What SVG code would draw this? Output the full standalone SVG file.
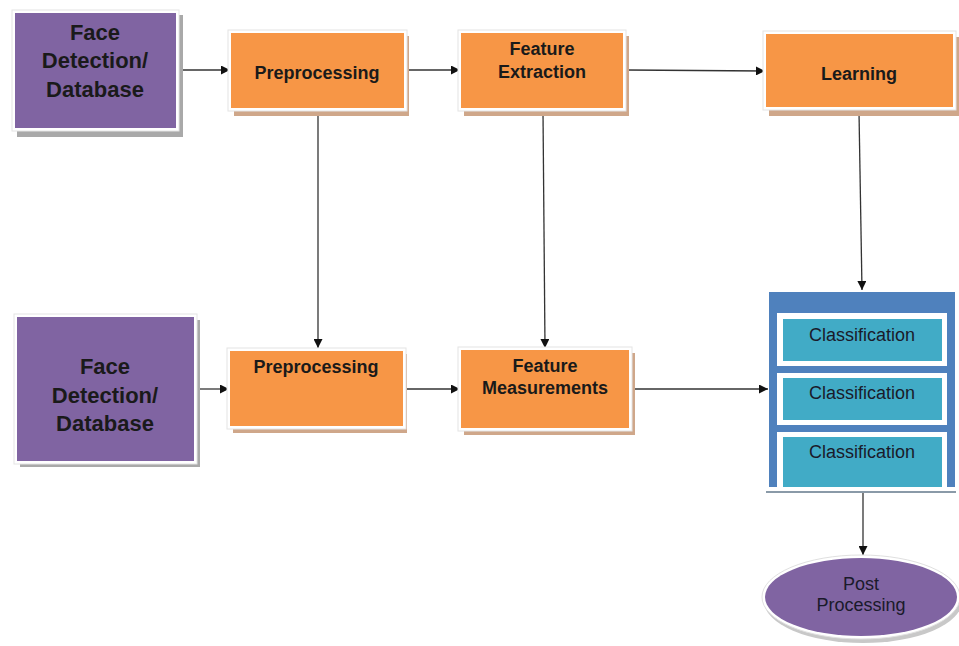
<svg xmlns="http://www.w3.org/2000/svg" width="959" height="646" viewBox="0 0 959 646">
<defs>
<style>
.pur{fill:#8064a2}
.org{fill:#f79646}
.tea{fill:#41abc6}
.wht{fill:#ffffff;stroke:#e4e4e4;stroke-width:1}
.shg{fill:#a9a9a9}
.sho{fill:#cfa78a}
.tb{font-family:"Liberation Sans",Arial,sans-serif;font-weight:bold;fill:#1a1a1a;text-anchor:middle}
.tr{font-family:"Liberation Sans",Arial,sans-serif;fill:#1a1a2a;text-anchor:middle}
.ln{stroke:#333333;stroke-width:1.3;fill:none}
</style>
<marker id="ah" viewBox="0 0 10 10" refX="10" refY="5" markerWidth="10" markerHeight="9" markerUnits="userSpaceOnUse" orient="auto">
<path d="M0,0 L10,5 L0,10 z" fill="#111111"/>
</marker>
</defs>
<rect width="959" height="646" fill="#ffffff"/>

<g id="connectors">
<line class="ln" x1="178" y1="70" x2="230" y2="70" marker-end="url(#ah)"/>
<line class="ln" x1="409" y1="70" x2="460" y2="70" marker-end="url(#ah)"/>
<line class="ln" x1="627" y1="70" x2="765" y2="71" marker-end="url(#ah)"/>
<line class="ln" x1="318" y1="112" x2="318" y2="348" marker-end="url(#ah)"/>
<line class="ln" x1="543" y1="112" x2="545" y2="348" marker-end="url(#ah)"/>
<line class="ln" x1="859" y1="112" x2="862" y2="290" marker-end="url(#ah)"/>
<line class="ln" x1="198" y1="389" x2="229" y2="389" marker-end="url(#ah)"/>
<line class="ln" x1="406" y1="389" x2="460" y2="389" marker-end="url(#ah)"/>
<line class="ln" x1="633" y1="389" x2="768" y2="389" marker-end="url(#ah)"/>
<line class="ln" x1="863" y1="493" x2="863" y2="555" marker-end="url(#ah)"/>
</g>

<g id="face1">
<rect class="shg" x="17" y="15" width="166" height="122"/>
<rect class="wht" x="12" y="10" width="167" height="121"/>
<rect class="pur" x="15" y="13" width="161" height="115"/>
<text class="tb" font-size="22" x="95" y="40">Face</text>
<text class="tb" font-size="22" x="95" y="68">Detection/</text>
<text class="tb" font-size="22" x="95" y="97">Database</text>
</g>

<g id="pre1">
<rect class="sho" x="234" y="36" width="175" height="80"/>
<rect class="wht" x="228" y="30" width="179" height="81"/>
<rect class="org" x="231" y="33" width="173" height="75"/>
<text class="tb" font-size="18" x="317" y="79">Preprocessing</text>
</g>

<g id="fe1">
<rect class="sho" x="464" y="36" width="165" height="80"/>
<rect class="wht" x="458" y="30" width="168" height="81"/>
<rect class="org" x="461" y="33" width="162" height="75"/>
<text class="tb" font-size="18" x="542" y="55">Feature</text>
<text class="tb" font-size="18" x="542" y="78">Extraction</text>
</g>

<g id="learn">
<rect class="sho" x="769" y="37" width="190" height="79"/>
<rect class="wht" x="763" y="31" width="193" height="79"/>
<rect class="org" x="766" y="34" width="187" height="73"/>
<text class="tb" font-size="18" x="859" y="80">Learning</text>
</g>

<g id="face2">
<rect class="shg" x="20" y="320" width="180" height="147"/>
<rect class="wht" x="14" y="314" width="183" height="150"/>
<rect class="pur" x="17" y="317" width="177" height="144"/>
<text class="tb" font-size="22" x="105" y="374">Face</text>
<text class="tb" font-size="22" x="105" y="403">Detection/</text>
<text class="tb" font-size="22" x="105" y="431">Database</text>
</g>

<g id="pre2">
<rect class="sho" x="233" y="354" width="174" height="79"/>
<rect class="wht" x="227" y="348" width="179" height="81"/>
<rect class="org" x="230" y="351" width="173" height="75"/>
<text class="tb" font-size="18" x="316" y="373">Preprocessing</text>
</g>

<g id="fm">
<rect class="sho" x="464" y="353" width="171" height="82"/>
<rect class="wht" x="458" y="347" width="174" height="84"/>
<rect class="org" x="461" y="350" width="168" height="78"/>
<text class="tb" font-size="18" x="545" y="372">Feature</text>
<text class="tb" font-size="18" x="545" y="394">Measurements</text>
</g>

<g id="classifiers">
<line x1="766" y1="492" x2="956" y2="492" stroke="#8a9aa8" stroke-width="2"/>
<rect x="769" y="292" width="186" height="195" fill="#4f81bd"/>
<rect x="777" y="313" width="170" height="53" fill="#ffffff"/>
<rect class="tea" x="783" y="319" width="159" height="42"/>
<text class="tr" font-size="18" x="862" y="341">Classification</text>
<rect x="777" y="373" width="170" height="52" fill="#ffffff"/>
<rect class="tea" x="783" y="378" width="159" height="42"/>
<text class="tr" font-size="18" x="862" y="399">Classification</text>
<rect x="777" y="432" width="170" height="55" fill="#ffffff"/>
<rect class="tea" x="783" y="437" width="159" height="50"/>
<text class="tr" font-size="18" x="862" y="458">Classification</text>
</g>

<g id="post">
<ellipse cx="863" cy="601" rx="99" ry="42" fill="#c8c8c8"/>
<ellipse cx="861" cy="597" rx="99" ry="42" fill="#ffffff" stroke="#e0e0e0"/>
<ellipse class="pur" cx="861" cy="597" rx="96" ry="39"/>
<text class="tr" font-size="18" x="861" y="590">Post</text>
<text class="tr" font-size="18" x="861" y="611">Processing</text>
</g>
</svg>
